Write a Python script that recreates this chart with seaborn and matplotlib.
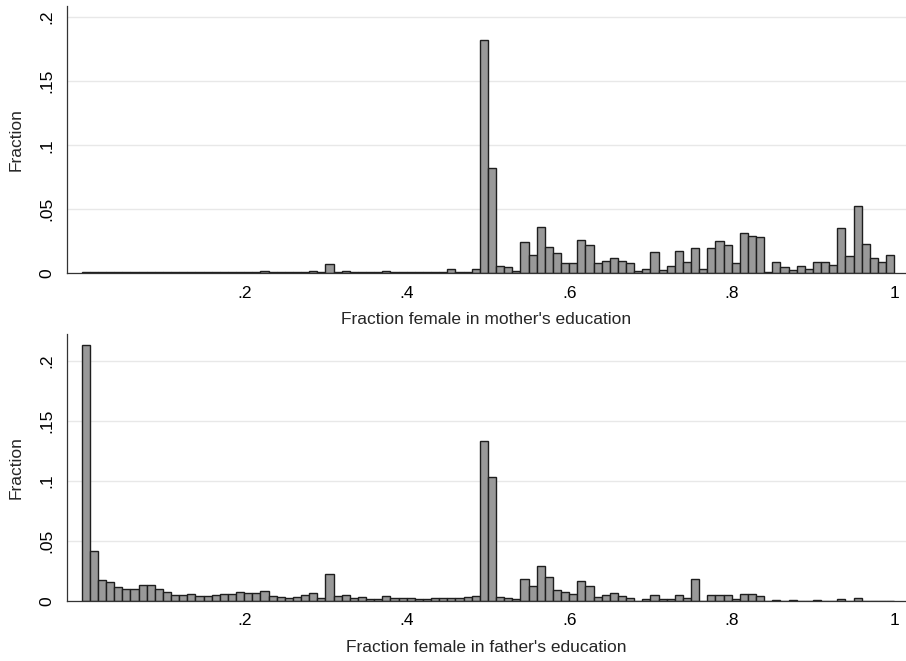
import numpy as np
import pandas as pd
import seaborn as sns
import matplotlib.pyplot as plt

# Fraction of observations per bin (bin width 0.01, from 0 to 1)
bin_edges = [round(i * 0.01, 2) for i in range(101)]
bin_centers = [round(e + 0.005, 3) for e in bin_edges[:-1]]

mother_frac = [
    0.0013, 0.0007, 0.0007, 0.0007, 0.0007, 0.0007, 0.0007, 0.0008, 0.0008, 0.0007,
    0.0007, 0.0007, 0.0007, 0.0007, 0.0007, 0.0007, 0.0007, 0.0008, 0.0008, 0.0013,
    0.0010, 0.0010, 0.0021, 0.0013, 0.0010, 0.0007, 0.0008, 0.0013, 0.0020, 0.0010,
    0.0070, 0.0013, 0.0021, 0.0010, 0.0010, 0.0008, 0.0008, 0.0021, 0.0010, 0.0010,
    0.0013, 0.0010, 0.0008, 0.0013, 0.0008, 0.0032, 0.0010, 0.0013, 0.0034, 0.1820,
    0.0820, 0.0055, 0.0047, 0.0021, 0.0242, 0.0146, 0.0362, 0.0206, 0.0156, 0.0078,
    0.0078, 0.0258, 0.0219, 0.0078, 0.0099, 0.0120, 0.0099, 0.0083, 0.0018, 0.0031,
    0.0169, 0.0023, 0.0060, 0.0172, 0.0089, 0.0195, 0.0031, 0.0195, 0.0250, 0.0221,
    0.0083, 0.0313, 0.0294, 0.0281, 0.0010, 0.0086, 0.0047, 0.0023, 0.0057, 0.0034,
    0.0086, 0.0091, 0.0068, 0.0354, 0.0133, 0.0523, 0.0229, 0.0122, 0.0091, 0.0143,
]

father_frac = [
    0.2130, 0.0420, 0.0178, 0.0161, 0.0117, 0.0103, 0.0103, 0.0130, 0.0130, 0.0103,
    0.0072, 0.0047, 0.0047, 0.0061, 0.0044, 0.0044, 0.0050, 0.0058, 0.0055, 0.0075,
    0.0064, 0.0067, 0.0080, 0.0039, 0.0036, 0.0025, 0.0033, 0.0053, 0.0064, 0.0022,
    0.0228, 0.0044, 0.0053, 0.0022, 0.0033, 0.0017, 0.0019, 0.0039, 0.0022, 0.0028,
    0.0022, 0.0019, 0.0014, 0.0025, 0.0022, 0.0028, 0.0022, 0.0031, 0.0039, 0.1330,
    0.1030, 0.0030, 0.0028, 0.0014, 0.0180, 0.0122, 0.0289, 0.0197, 0.0094, 0.0075,
    0.0061, 0.0164, 0.0125, 0.0030, 0.0053, 0.0064, 0.0042, 0.0028, 0.0004, 0.0014,
    0.0053, 0.0014, 0.0019, 0.0047, 0.0025, 0.0180, 0.0004, 0.0050, 0.0050, 0.0050,
    0.0019, 0.0061, 0.0061, 0.0044, 0.0004, 0.0011, 0.0004, 0.0006, 0.0004, 0.0004,
    0.0008, 0.0004, 0.0004, 0.0014, 0.0004, 0.0022, 0.0004, 0.0004, 0.0004, 0.0004,
]

x_ticks = [0.2, 0.4, 0.6, 0.8, 1.0]
x_ticklabels = [".2", ".4", ".6", ".8", "1"]
y_ticks = [0, 0.05, 0.1, 0.15, 0.2]
y_ticklabels = ["0", ".05", ".1", ".15", ".2"]

sns.set_theme(style="white")
plt.rcParams["font.family"] = ["Liberation Sans", "DejaVu Sans"]

fig = plt.figure(figsize=(9.06, 6.61), dpi=100)
ax_top = fig.add_axes([0.0736, 0.5866, 0.9264, 0.4044])
ax_bot = fig.add_axes([0.0736, 0.0908, 0.9264, 0.4035])

panels = [
    (ax_top, mother_frac, "Fraction female in mother's education", 0.2088),
    (ax_bot, father_frac, "Fraction female in father's education", 0.2220),
]

for ax, frac, xlabel, ytop in panels:
    df = pd.DataFrame({"x": bin_centers, "w": frac})
    ax.set_axisbelow(True)
    ax.yaxis.grid(True, color="#e8e8e8", linewidth=1.0)
    sns.histplot(data=df, x="x", weights="w", bins=bin_edges, ax=ax,
                 color="#999999", edgecolor="#1e1e1e", linewidth=1.0, alpha=1)
    ax.set_xlim(-0.0185, 1.0145)
    ax.set_ylim(0, ytop)
    ax.set_xticks(x_ticks)
    ax.set_xticklabels(x_ticklabels)
    ax.set_yticks(y_ticks)
    ax.set_yticklabels(y_ticklabels, rotation=90, va="center")
    ax.tick_params(axis="both", direction="out", length=5, width=0.8,
                   color="#333333", labelsize=12.5, labelcolor="black", pad=4)
    ax.set_xlabel(xlabel, fontsize=12.5, labelpad=8)
    ax.set_ylabel("Fraction", fontsize=12.5, labelpad=11)
    for side in ["top", "right"]:
        ax.spines[side].set_visible(False)
    for side in ["left", "bottom"]:
        ax.spines[side].set_color("#333333")
        ax.spines[side].set_linewidth(0.9)

fig.savefig("out.png", dpi=100)
